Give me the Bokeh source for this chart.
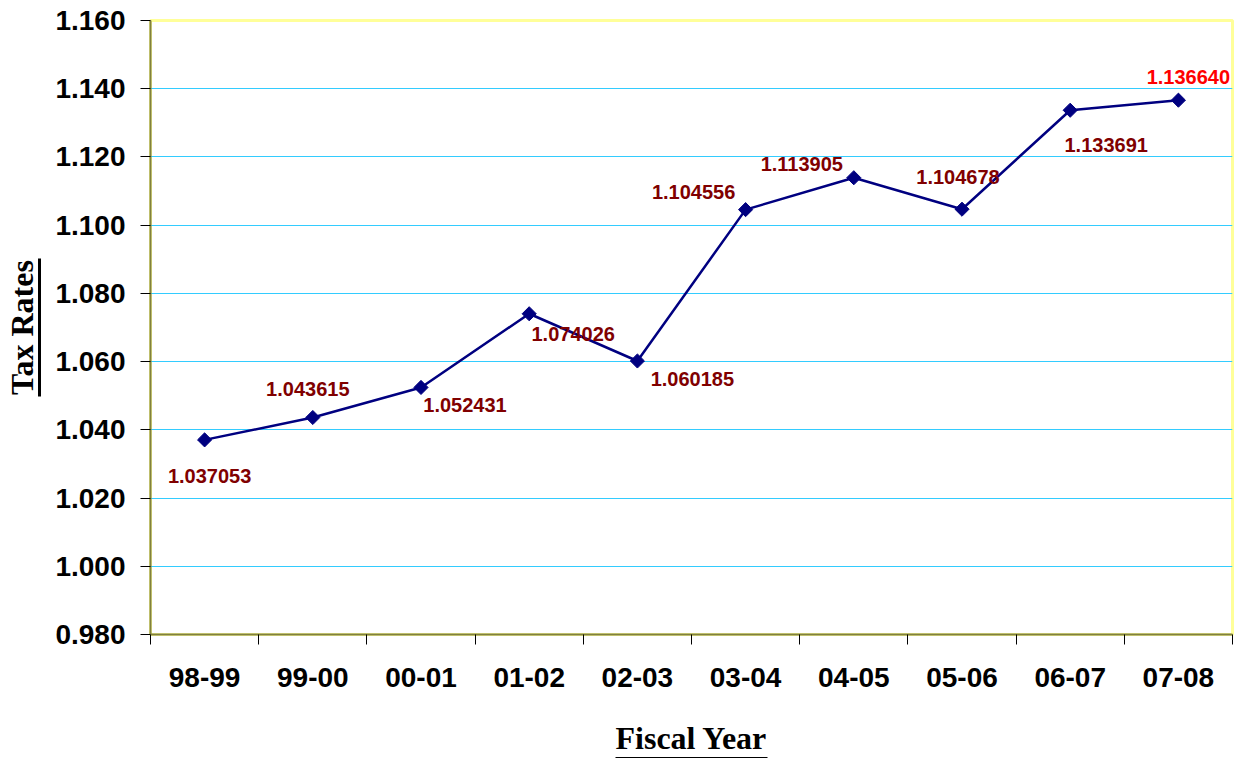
import numpy as np
from bokeh.plotting import figure
from bokeh.models import Range1d, FixedTicker, ColumnDataSource, LinearAxis, NumeralTickFormatter
from bokeh.core.properties import value
from bokeh.embed import file_html
from bokeh.resources import INLINE

# ---- data ----
categories = ["98-99", "99-00", "00-01", "01-02", "02-03",
              "03-04", "04-05", "05-06", "06-07", "07-08"]
tax_rates = [1.037053, 1.043615, 1.052431, 1.074026, 1.060185,
             1.104556, 1.113905, 1.104678, 1.133691, 1.136640]
y_ticks = [0.98, 1.00, 1.02, 1.04, 1.06, 1.08, 1.10, 1.12, 1.14, 1.16]

# ---- label styles (screen-pixel offsets from each point) ----
label_dx = [5, -5, 44, 44, 55, -52, -52, -4, 36, 10]
label_dy = [36, -29, 18, 20, 18, -18, -14, -32, 35, -23]
label_colors = ["#800000"] * 9 + ["#FF0000"]

n = len(categories)
xs = [i + 0.5 for i in range(n)]

src = ColumnDataSource(dict(
    x=xs, y=tax_rates,
    txt=[f"{v:.6f}" for v in tax_rates],
    dx=label_dx, dy=label_dy, col=label_colors,
))

p = figure(width=1243, height=758,
           x_range=Range1d(0, n), y_range=Range1d(y_ticks[0], y_ticks[-1]),
           output_backend="svg", toolbar_location=None,
           min_border_left=150, min_border_right=11,
           min_border_top=20, min_border_bottom=124)
p.background_fill_color = "white"
p.border_fill_color = "white"
p.outline_line_color = "#FFFF99"
p.outline_line_width = 3

# x axis (ticks between categories, labels at centres)
p.xaxis.ticker = FixedTicker(ticks=xs, minor_ticks=list(range(n + 1)))
p.xaxis.major_label_overrides = {x: c for x, c in zip(xs, categories)}
p.xaxis.major_tick_out = 0
p.xaxis.major_tick_in = 0
p.xaxis.minor_tick_out = 10
p.xaxis.minor_tick_in = 0
p.xaxis.minor_tick_line_color = "black"
p.xaxis.axis_line_color = "#808040"
p.xaxis.axis_line_width = 2
p.xaxis.major_label_standoff = 23
p.xaxis.axis_label = "Fiscal Year"
p.xaxis.axis_label_standoff = 30

# y axis
p.yaxis.ticker = FixedTicker(ticks=y_ticks, minor_ticks=[])
p.yaxis.formatter = NumeralTickFormatter(format="0.000")
p.yaxis.major_tick_out = 10
p.yaxis.major_tick_in = 0
p.yaxis.major_tick_line_color = "black"
p.yaxis.axis_line_color = "#808040"
p.yaxis.axis_line_width = 2
p.yaxis.major_label_standoff = 15

for ax in (p.xaxis, p.yaxis):
    ax.major_label_text_font = "Liberation Sans"
    ax.major_label_text_font_style = "bold"
    ax.major_label_text_font_size = "28px"
    ax.major_label_text_color = "black"
    ax.axis_label_text_font = "Liberation Serif"
    ax.axis_label_text_font_style = "bold"
    ax.axis_label_text_font_size = "32px"
    ax.axis_label_text_color = "black"


def bare_axis(ticks=(), **kw):
    return LinearAxis(ticker=FixedTicker(ticks=list(ticks), minor_ticks=[]),
                      major_tick_in=0, minor_tick_in=0, minor_tick_out=0,
                      major_label_standoff=0, **kw)


yc = (y_ticks[0] + y_ticks[-1]) / 2

# invisible spacer between the y tick labels and the y title
p.add_layout(bare_axis(ticks=[yc], axis_line_color=None, major_tick_out=13,
                       major_tick_line_color=None,
                       major_label_overrides={yc: ""}), "left")
# y title with its underline (the axis line, bounded)
ytitle = bare_axis(axis_line_color="black", axis_line_width=3, major_tick_out=0,
                   bounds=(yc - 0.0202, yc + 0.0202),
                   axis_label="Tax Rates", axis_label_standoff=0,
                   axis_label_text_font="Liberation Serif",
                   axis_label_text_font_style="bold",
                   axis_label_text_font_size="32px",
                   axis_label_text_color="black")
p.add_layout(ytitle, "left")
# underline of the x title
p.add_layout(bare_axis(axis_line_color="black", axis_line_width=3, major_tick_out=0,
                       bounds=(n / 2 - 0.707, n / 2 + 0.707)), "below")

p.xgrid.visible = False
p.ygrid.grid_line_color = "#33CCFF"
p.ygrid.grid_line_width = 1

p.line("x", "y", source=src, line_color="#000080", line_width=2.5)
p.scatter("x", "y", source=src, marker="square", size=10, angle=np.pi / 4,
          fill_color="#000080", line_color="#000080")
p.text("x", "y", text="txt", source=src, x_offset="dx", y_offset="dy",
       text_color="col", text_font=value("Liberation Sans"),
       text_font_style="bold", text_font_size="20px",
       text_align="center", text_baseline="middle")

open("out.html", "w").write(file_html(p, INLINE))
